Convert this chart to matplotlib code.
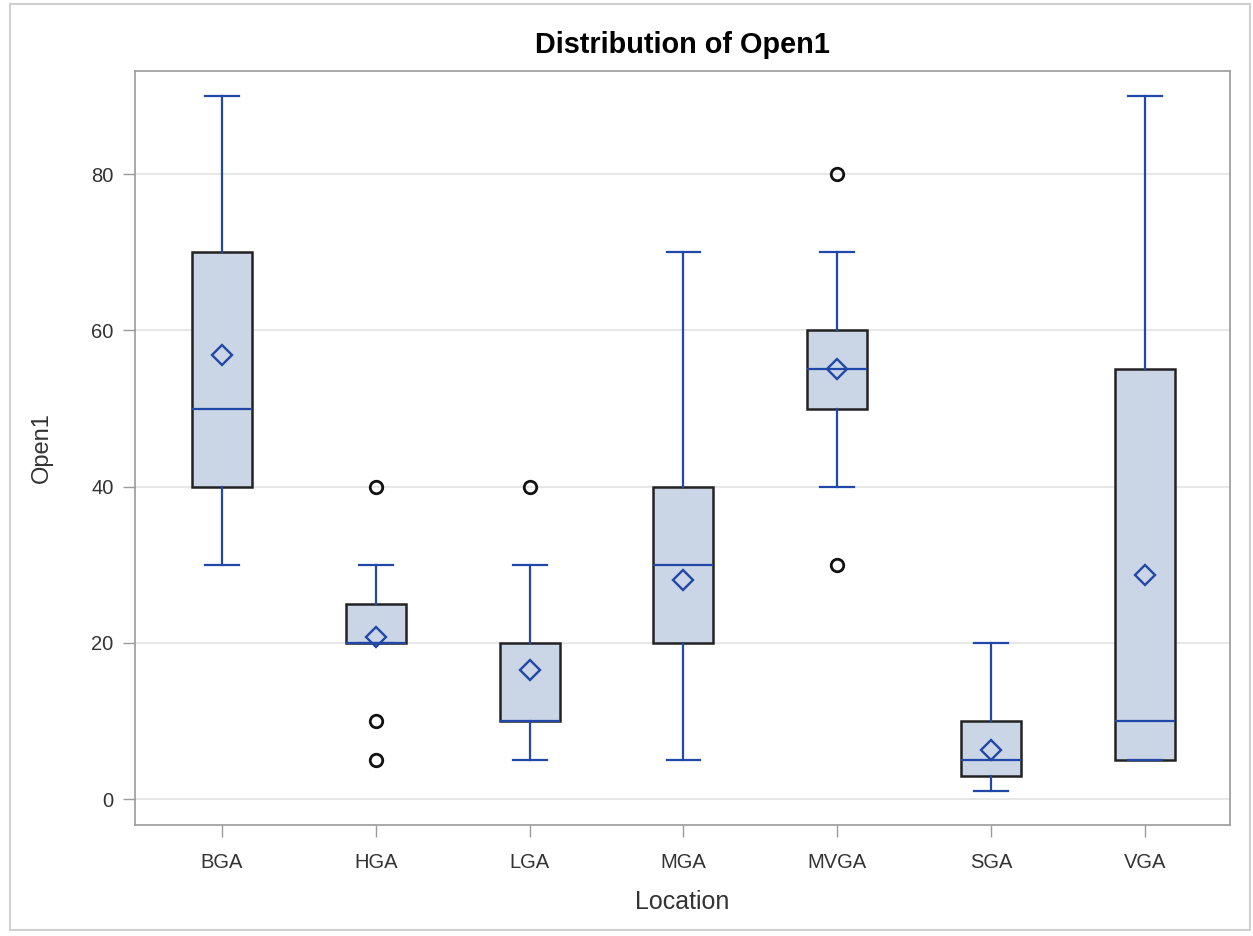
import numpy as np
import matplotlib.pyplot as plt
from matplotlib.patches import Rectangle

plt.rcParams['font.family'] = ['Liberation Sans', 'DejaVu Sans']

locations = ['BGA', 'HGA', 'LGA', 'MGA', 'MVGA', 'SGA', 'VGA']
whis_lo = [30, 20, 5, 5, 40, 1, 5]
q1 = [40, 20, 10, 20, 50, 3, 5]
median = [50, 20, 10, 30, 55, 5, 10]
q3 = [70, 25, 20, 40, 60, 10, 55]
whis_hi = [90, 30, 30, 70, 70, 20, 90]
means = [56.9, 20.8, 16.5, 28.0, 55.0, 6.3, 28.7]
outliers = [[], [40, 10, 5], [40], [], [80, 30], [], []]

blue = '#2147A8'
fill = '#CAD5E5'

stats = []
for i, loc in enumerate(locations):
    stats.append(dict(label=loc, whislo=whis_lo[i], q1=q1[i], med=median[i],
                      q3=q3[i], whishi=whis_hi[i], mean=means[i],
                      fliers=outliers[i]))

fig = plt.figure(figsize=(12.53, 9.36), dpi=100)
ax = fig.add_axes([0.1077, 0.1186, 0.8739, 0.8055])

ax.bxp(stats, positions=range(1, 8), widths=0.39, patch_artist=True,
       showmeans=True, showfliers=True,
       boxprops=dict(facecolor=fill, edgecolor='#222222', linewidth=1.8),
       medianprops=dict(color=blue, linewidth=1.6),
       whiskerprops=dict(color=blue, linewidth=1.6),
       capprops=dict(color=blue, linewidth=1.6),
       capwidths=0.22,
       meanprops=dict(marker='D', markerfacecolor='none', markeredgecolor=blue,
                      markeredgewidth=1.7, markersize=10.5),
       flierprops=dict(marker='o', markerfacecolor='none', markeredgecolor='#111111',
                       markeredgewidth=2, markersize=9))

ax.set_xlim(0.434, 7.553)
ax.set_ylim(-3.3, 93.2)
ax.set_yticks([0, 20, 40, 60, 80])
ax.yaxis.grid(True, color='#e3e3e3', linewidth=1.2)
ax.set_axisbelow(True)
for s in ax.spines.values():
    s.set_color('#9a9a9a')
    s.set_linewidth(1.2)
ax.tick_params(axis='both', colors='#9a9a9a', labelcolor='#333333',
               labelsize=14.5, length=8.5, width=1)
ax.tick_params(axis='y', pad=7)
ax.tick_params(axis='x', pad=12)

ax.set_title('Distribution of Open1', fontsize=20.8, fontweight='bold', pad=13)
ax.set_xlabel('Location', fontsize=18, color='#333333')
ax.set_ylabel('Open1', fontsize=17, color='#333333')
ax.xaxis.set_label_coords(0.5, -0.086)
ax.yaxis.set_label_coords(-0.075, 0.5)

fig.patches.append(Rectangle((0.008, 0.006), 0.99, 0.99, transform=fig.transFigure,
                             fill=False, edgecolor='#d0d0d0', linewidth=1.5))

fig.savefig('out.png', dpi=100)
